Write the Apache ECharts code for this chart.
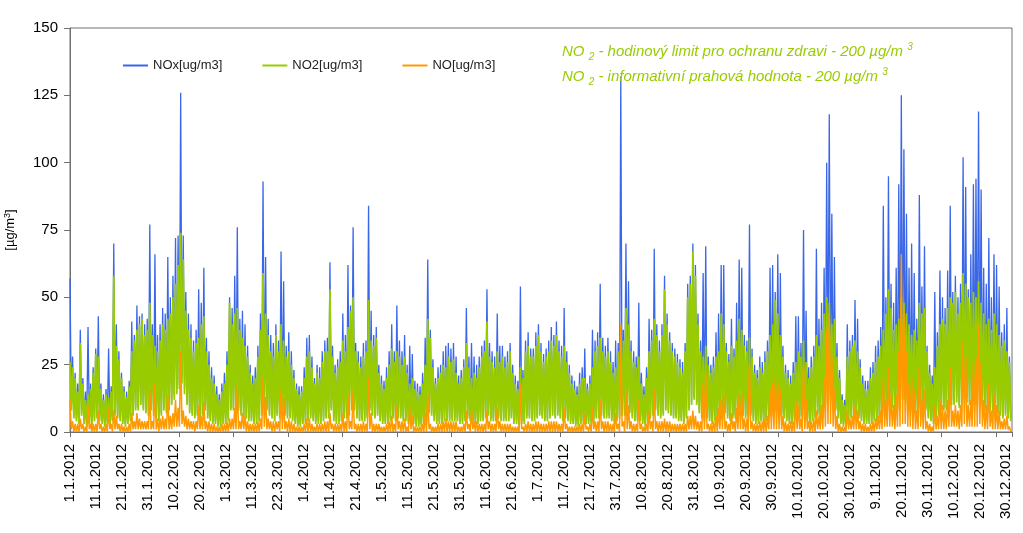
<!DOCTYPE html>
<html><head><meta charset="utf-8">
<script src="https://cdn.jsdelivr.net/npm/echarts@6/dist/echarts.min.js"></script>
<style>html,body{margin:0;padding:0;background:#fff}#c{width:1023px;height:533px}</style>
</head><body><div id="c"></div>
<script>
// Tick labels of the x axis (every ~10 days)
const tickLabels = ['1.1.2012','11.1.2012','21.1.2012','31.1.2012','10.2.2012','20.2.2012','1.3.2012','11.3.2012','22.3.2012','1.4.2012','11.4.2012','21.4.2012','1.5.2012','11.5.2012','21.5.2012','31.5.2012','11.6.2012','21.6.2012','1.7.2012','11.7.2012','21.7.2012','31.7.2012','10.8.2012','20.8.2012','31.8.2012','10.9.2012','20.9.2012','30.9.2012','10.10.2012','20.10.2012','30.10.2012','9.11.2012','20.11.2012','30.11.2012','10.12.2012','20.12.2012','30.12.2012'];
const seriesNames = ['NOx[ug/m3]','NO2[ug/m3]','NO[ug/m3]'];

// Daily maxima / minima (one value per day, 366 days)
const no2Max = [
26,24,20,15,33,18,12,14,16,22, 29,28,16,12,14,13,15,58,32,27, 20,15,13,17,30,34,38,40,42,36,
38,48,36,32,30,34,40,38,42,44, 50,55,62,74,64,45,38,35,30,33, 35,40,43,30,25,20,18,14,12,15,
18,25,48,40,44,46,38,35,32,28, 22,18,20,28,38,59,44,36,30,28, 36,30,40,34,28,30,25,20,16,14,
15,20,28,30,24,18,22,20,26,30, 30,53,28,22,24,26,34,30,39,45, 50,30,26,24,28,30,49,34,32,35,
22,18,16,20,25,31,26,30,28,25, 28,22,18,20,16,15,14,18,25,42, 35,24,18,20,22,25,24,28,26,27,
22,18,20,24,33,24,20,22,20,24, 28,30,41,28,26,24,30,26,28,24, 26,30,22,18,16,24,20,30,32,28,
28,32,36,30,26,28,30,34,32,36, 30,28,32,26,22,18,16,14,18,20, 20,16,18,24,30,32,35,30,28,30,
26,22,24,30,36,34,46,40,30,26, 24,28,18,14,20,30,34,42,36,30, 36,53,40,34,30,28,26,24,22,30,
50,55,67,58,40,30,28,32,25,22, 24,28,30,44,40,30,26,32,28,34, 42,38,32,30,35,28,22,20,24,22,
26,30,36,40,49,44,36,28,22,20, 18,22,26,30,28,34,26,20,24,28, 36,32,38,44,50,48,40,42,28,20,
12,10,28,30,32,34,30,24,18,16, 16,20,22,26,28,32,38,44,53,46, 38,40,42,50,48,44,40,36,38,34,
48,44,46,30,22,18,24,32,40,42, 40,46,50,48,52,44,48,59,55,50, 48,52,50,56,48,44,40,42,38,44,
40,36,32,34,30,26];
const no2Min = [
8,5,4,3,6,3,2,3,2,4, 5,4,3,2,3,2,4,6,5,4, 3,2,3,4,6,8,8,10,8,7,
6,8,6,5,4,6,8,7,8,10, 12,14,16,18,14,10,7,6,5,6, 5,6,8,5,4,3,3,2,2,3,
3,4,8,8,7,8,6,5,5,4, 4,3,3,4,6,10,8,6,5,4, 6,5,7,6,5,5,4,3,2,2,
3,3,4,5,4,3,3,3,4,5, 5,8,4,3,3,4,5,5,6,8, 8,5,4,4,4,5,8,6,5,6,
4,3,3,3,4,5,4,5,5,4, 4,3,3,3,2,2,2,3,4,7, 6,4,3,3,3,4,4,4,4,4,
4,3,3,4,5,4,3,3,3,4, 4,5,6,4,4,4,5,4,4,4, 4,5,3,3,2,3,3,5,5,4,
4,5,6,5,4,4,5,6,5,6, 5,4,5,4,3,3,2,2,3,3, 3,3,3,4,5,5,6,5,5,5,
4,3,4,5,6,6,8,7,5,4, 4,4,3,2,3,5,6,8,6,5, 6,8,7,6,5,5,4,4,3,5,
8,10,12,10,7,5,4,5,4,3, 4,4,5,7,7,5,4,5,5,6, 7,6,5,5,6,4,3,3,4,3,
4,5,6,7,8,8,6,5,4,3, 3,4,4,5,5,6,4,3,4,5, 6,5,7,10,14,12,8,8,5,3,
2,2,4,5,5,6,5,4,3,3, 3,3,4,4,5,5,7,8,10,9, 7,8,9,12,12,10,8,7,7,6,
9,8,8,5,4,3,4,6,8,8, 8,9,10,10,11,9,10,12,11,10, 9,10,10,12,10,8,7,8,7,8,
7,6,5,6,5,4];
const noxMax = [
57,28,22,18,38,20,15,39,18,24, 31,43,18,14,16,31,17,70,40,30, 22,17,15,19,41,36,47,43,44,40,
42,77,40,66,36,40,46,44,65,50, 58,72,73,126,73,52,44,40,34,38, 53,48,61,35,30,24,21,17,14,18,
22,30,50,46,58,76,42,45,40,32, 25,21,24,32,44,93,65,42,36,33, 40,34,67,56,32,37,30,23,18,17,
17,24,35,36,28,20,25,24,30,34, 35,63,32,25,27,30,44,36,62,47, 76,33,30,28,33,34,84,45,36,39,
25,21,19,24,30,40,30,47,34,30, 36,25,32,29,19,18,17,22,35,64, 38,27,20,24,25,30,32,33,31,33,
28,21,23,27,46,28,33,28,25,28, 32,34,53,33,30,28,44,32,32,28, 30,33,25,21,19,54,23,34,37,31,
31,37,40,33,29,31,34,39,36,41, 34,32,46,30,25,21,19,17,22,24, 31,18,21,38,34,37,55,35,32,35,
30,26,34,33,132,38,70,56,34,30, 28,48,22,17,24,42,38,68,40,34, 40,58,44,37,33,31,29,27,26,33,
55,58,70,62,44,34,59,69,28,25, 28,37,44,62,62,33,29,42,31,48, 64,61,36,34,77,31,25,23,28,26,
30,34,61,62,52,66,59,32,25,23, 21,26,43,43,33,75,45,24,28,32, 68,42,48,61,100,118,81,65,33,23,
14,12,40,34,36,49,42,27,21,19, 19,24,26,32,34,39,84,50,95,55, 48,61,92,125,105,81,61,70,59,42,
88,54,69,32,25,21,52,37,60,50, 46,60,84,52,58,50,55,102,91,53, 66,92,94,119,90,61,55,72,50,66,
62,54,37,40,46,28];
const noxMin = [
9,6,5,4,7,4,3,4,3,5, 6,5,4,3,4,3,5,7,6,5, 4,3,4,5,7,9,9,11,9,8,
7,9,7,6,5,7,9,8,9,11, 14,16,18,21,16,11,8,7,6,7, 6,7,9,6,5,4,4,3,3,4,
4,5,9,9,8,9,7,6,6,5, 5,4,4,5,7,11,9,7,6,5, 7,6,8,7,6,6,5,4,3,3,
4,4,5,6,5,4,4,4,5,6, 6,9,5,4,4,5,6,6,7,9, 9,6,5,5,5,6,9,7,6,7,
5,4,4,4,5,6,5,6,6,5, 5,4,4,4,3,3,3,4,5,8, 7,5,4,4,4,5,5,5,5,5,
5,4,4,5,6,5,4,4,4,5, 5,6,7,5,5,5,6,5,5,5, 5,6,4,4,3,4,4,6,6,5,
5,6,7,6,5,5,6,7,6,7, 6,5,6,5,4,4,3,3,4,4, 4,4,4,5,6,6,7,6,6,6,
5,4,5,6,7,7,9,8,6,5, 5,5,4,3,4,6,7,9,7,6, 7,9,8,7,6,6,5,5,4,6,
9,11,13,11,8,6,5,6,5,4, 5,5,6,8,8,6,5,6,6,7, 8,7,6,6,7,5,4,4,5,4,
5,6,7,8,9,9,7,6,5,4, 4,5,5,6,6,7,5,4,5,6, 7,6,8,12,17,15,10,9,6,4,
3,3,5,6,6,7,6,5,4,4, 4,4,5,5,6,6,8,9,12,11, 8,9,11,15,14,12,9,8,8,7,
11,9,9,6,5,4,5,7,9,9, 9,10,12,11,13,10,11,14,13,11, 10,12,12,14,12,9,8,9,8,9,
8,7,6,7,6,5];
const noMax = [
12,4,3,3,5,3,2,10,3,3, 3,8,3,2,3,9,3,8,6,3, 3,2,2,3,7,4,7,5,4,4,
4,16,4,18,5,5,6,5,14,6, 7,12,9,30,8,6,5,4,4,4, 10,6,11,4,4,3,3,2,2,3,
3,4,5,5,9,17,4,7,6,4, 3,3,3,4,5,20,13,5,4,4, 4,4,16,13,4,5,4,3,2,2,
2,3,5,5,3,2,3,3,3,4, 4,7,3,3,3,3,7,4,14,4, 16,3,3,3,4,3,20,7,3,3,
3,2,2,3,4,6,3,10,4,4, 5,2,9,6,2,2,2,3,7,14, 3,2,2,3,3,4,5,4,4,4,
4,2,2,3,8,3,8,4,4,3, 3,3,8,4,3,3,9,4,3,3, 3,3,2,2,2,18,2,3,4,3,
3,4,4,3,3,3,4,4,4,4, 3,3,9,3,2,2,2,2,3,3, 7,2,3,9,4,4,12,4,4,4,
3,3,7,3,40,4,15,10,4,3, 3,12,3,2,3,8,4,16,4,4, 4,5,4,4,3,3,3,3,3,3,
6,6,8,6,4,4,18,22,3,3, 4,6,9,12,14,4,3,7,4,9, 14,14,5,5,25,4,3,3,4,4,
5,6,16,18,20,18,16,6,4,3, 4,4,12,10,5,25,12,4,4,5, 8,6,10,20,38,44,28,16,6,3,
2,2,8,5,6,10,8,4,3,3, 2,3,4,5,6,8,20,12,24,14, 10,14,30,66,45,30,18,20,16,8,
24,12,16,4,3,2,10,6,12,10, 8,12,24,8,10,8,10,34,28,10, 12,26,28,40,26,12,10,18,8,14,
10,8,4,5,6,2];
const noMin = [
1,0,0,0,1,0,0,1,0,0, 0,1,0,0,0,1,0,1,1,0, 0,0,0,0,1,1,1,1,1,1,
1,1,1,1,0,1,1,1,1,1, 2,2,2,3,2,1,1,1,0,1, 1,1,1,0,0,0,0,0,0,0,
0,0,1,1,1,1,1,1,0,0, 0,0,0,0,1,2,1,1,0,0, 1,0,1,1,0,0,0,0,0,0,
0,0,0,0,0,0,0,0,0,0, 0,1,0,0,0,0,0,0,1,1, 1,0,0,0,0,0,1,0,0,0,
0,0,0,0,0,0,0,1,0,0, 0,0,1,0,0,0,0,0,0,1, 0,0,0,0,0,0,0,0,0,0,
0,0,0,0,1,0,1,0,0,0, 0,0,1,0,0,0,1,0,0,0, 0,0,0,0,0,1,0,0,0,0,
0,0,0,0,0,0,0,0,0,0, 0,0,1,0,0,0,0,0,0,0, 1,0,0,1,0,0,1,0,0,0,
0,0,1,0,2,0,1,1,0,0, 0,1,0,0,0,1,0,1,0,0, 0,0,0,0,0,0,0,0,0,0,
1,1,1,1,0,0,1,1,0,0, 0,0,1,1,1,0,0,1,0,1, 1,1,0,0,1,0,0,0,0,0,
0,1,1,1,1,1,1,0,0,0, 0,0,1,1,0,1,1,0,0,0, 1,1,1,2,3,3,2,1,0,0,
0,0,1,1,1,1,1,0,0,0, 0,0,0,1,1,1,2,2,2,2, 1,2,2,3,3,2,2,1,1,1,
2,1,1,0,0,0,1,1,1,1, 1,2,2,2,2,1,2,3,2,2, 2,2,2,3,2,1,1,2,1,1,
1,1,1,1,1,0];

// label step and tick step along the time axis (in days)
const labelStep = 10.1;
const tickStep = 21.16;
const dayCount = 366;

function pairs(hi, lo) {
  const out = [];
  const n = Math.min(hi.length, lo.length);
  for (let d = 0; d < n; d++) {
    out.push([d, hi[d]]);
    out.push([d + 0.5, lo[d]]);
  }
  return out;
}

const colors = ['#3A66E8', '#99CC00', '#FF9900'];
const chart = echarts.init(document.getElementById('c'), null, {renderer: 'canvas'});
const font = 'Liberation Sans, Arial, sans-serif';

chart.setOption({
  animation: false,
  backgroundColor: '#fff',
  grid: {left: 70, right: 11, top: 28, bottom: 101, containLabel: false, outerBoundsMode: 'none',
         show: true, borderColor: '#707070', borderWidth: 1},
  legend: {
    left: 118, top: 54, itemWidth: 25, itemHeight: 2, itemGap: 40, icon: 'rect',
    data: seriesNames,
    textStyle: {fontFamily: font, fontSize: 13, color: '#222'}
  },
  xAxis: [{
    type: 'value', min: 0, max: dayCount, interval: labelStep, position: 'bottom',
    axisLine: {show: true, lineStyle: {color: '#707070'}},
    axisTick: {show: false},
    splitLine: {show: false},
    axisLabel: {
      rotate: 90, margin: 12, fontFamily: font, fontSize: 15, color: '#000',
      showMinLabel: true, showMaxLabel: false,
      formatter: function (v) {
        const k = v / labelStep;
        const r = Math.round(k);
        if (Math.abs(k - r) > 1e-6 || r >= tickLabels.length) return '';
        return tickLabels[r];
      }
    }
  }, {
    type: 'value', min: 0, max: dayCount, interval: tickStep, position: 'bottom',
    axisLine: {show: false},
    axisTick: {show: true, length: 5, lineStyle: {color: '#707070'}},
    axisLabel: {show: false},
    splitLine: {show: false}
  }],
  yAxis: {
    type: 'value', min: 0, max: 150, interval: 25,
    name: '[µg/m{s|3}]', nameLocation: 'middle', nameRotate: 90, nameGap: 52,
    nameTextStyle: {fontFamily: font, fontSize: 13, color: '#000',
      rich: {s: {fontFamily: font, fontSize: 9, color: '#000', verticalAlign: 'top', padding: [0, 0, 6, 0]}}},
    axisLine: {show: true, lineStyle: {color: '#707070'}},
    axisTick: {show: true, length: 6, lineStyle: {color: '#707070'}},
    splitLine: {show: false},
    axisLabel: {margin: 12, fontFamily: font, fontSize: 15, color: '#000'}
  },
  series: [
    {name: seriesNames[0], type: 'line', data: pairs(noxMax, noxMin), showSymbol: false, symbol: 'none',
     color: colors[0], lineStyle: {width: 1.3, color: colors[0]}, z: 2},
    {name: seriesNames[1], type: 'line', data: pairs(no2Max, no2Min), showSymbol: false, symbol: 'none',
     color: colors[1], lineStyle: {width: 1.8, color: colors[1]}, z: 3},
    {name: seriesNames[2], type: 'line', data: pairs(noMax, noMin), showSymbol: false, symbol: 'none',
     color: colors[2], lineStyle: {width: 1.5, color: colors[2]}, z: 4}
  ],
  graphic: [
    {type: 'text', left: 562, top: 42, z: 10,
     style: {text: '{a|NO }{s|2}{a| - hodinový limit pro ochranu zdravi - 200 µg/m }{p|3}',
       rich: {a: {fontFamily: font, fontStyle: 'italic', fontSize: 15, fill: '#99CC00', lineHeight: 20, verticalAlign: 'middle'},
              s: {fontFamily: font, fontStyle: 'italic', fontSize: 10, fill: '#99CC00', lineHeight: 20, verticalAlign: 'bottom'},
              p: {fontFamily: font, fontStyle: 'italic', fontSize: 10, fill: '#99CC00', lineHeight: 20, verticalAlign: 'top'}}}},
    {type: 'text', left: 562, top: 67, z: 10,
     style: {text: '{a|NO }{s|2}{a| - informativní prahová hodnota - 200 µg/m }{p|3}',
       rich: {a: {fontFamily: font, fontStyle: 'italic', fontSize: 15, fill: '#99CC00', lineHeight: 20, verticalAlign: 'middle'},
              s: {fontFamily: font, fontStyle: 'italic', fontSize: 10, fill: '#99CC00', lineHeight: 20, verticalAlign: 'bottom'},
              p: {fontFamily: font, fontStyle: 'italic', fontSize: 10, fill: '#99CC00', lineHeight: 20, verticalAlign: 'top'}}}}
  ]
});
</script></body></html>
